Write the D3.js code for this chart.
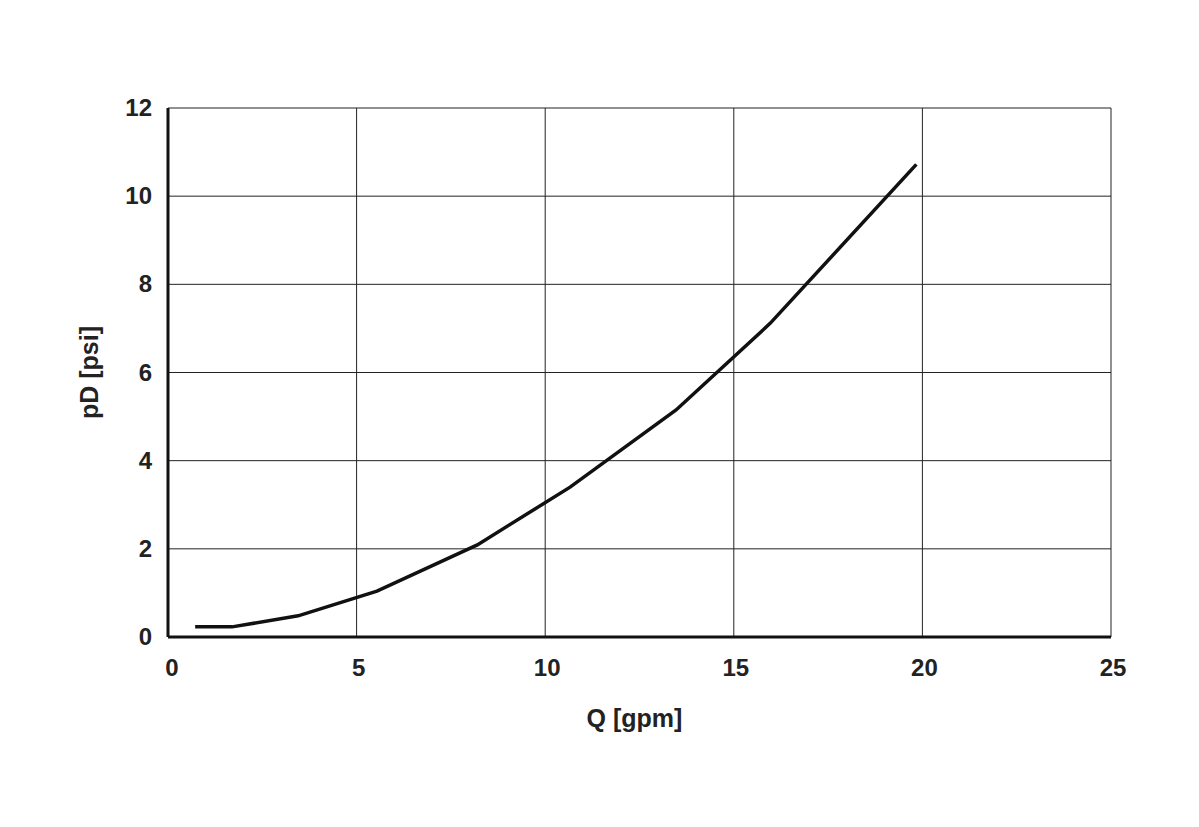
<!DOCTYPE html>
<html><head><meta charset="utf-8">
<script src="https://cdn.jsdelivr.net/npm/d3@7/dist/d3.min.js"></script>
<style>body{margin:0;background:#fff}text{font-family:"Liberation Sans",Arial,sans-serif;font-weight:bold}</style>
</head><body><svg id="c" width="1199" height="827"></svg>
<script>
const qValues=[0.72,1.7,3.45,5.54,8.2,10.66,13.47,15.97,19.84];
const pValues=[0.23,0.23,0.48,1.04,2.09,3.4,5.15,7.12,10.72];
const xTicks=[0,5,10,15,20,25];
const yTicks=[0,2,4,6,8,10,12];
const svg=d3.select("#c");
const L=168,R=1111,T=108,B=637;
const x=d3.scaleLinear().domain([0,25]).range([L,R]);
const y=d3.scaleLinear().domain([0,12]).range([B,T]);
const g=svg.append("g");
g.selectAll(".vx").data(xTicks).join("line").attr("x1",d=>x(d)).attr("x2",d=>x(d)).attr("y1",T).attr("y2",B).attr("stroke","#222").attr("stroke-width",1);
g.selectAll(".hy").data(yTicks).join("line").attr("y1",d=>y(d)).attr("y2",d=>y(d)).attr("x1",L).attr("x2",R).attr("stroke","#222").attr("stroke-width",1);
g.append("line").attr("x1",L).attr("x2",L).attr("y1",T).attr("y2",B).attr("stroke","#111").attr("stroke-width",3);
g.append("line").attr("x1",L).attr("x2",R).attr("y1",B).attr("y2",B).attr("stroke","#111").attr("stroke-width",3);
g.selectAll(".xt").data(xTicks).join("text").attr("x",d=>x(d)+(d===0?4:2)).attr("y",B+39).attr("text-anchor","middle").attr("font-size",24).attr("fill","#222").text(d=>d);
g.selectAll(".yt").data(yTicks).join("text").attr("x",L-16).attr("y",d=>y(d)+8).attr("text-anchor","end").attr("font-size",24).attr("fill","#222").text(d=>d);
svg.append("text").attr("x",(L+R)/2-5).attr("y",727).attr("text-anchor","middle").attr("font-size",25).attr("fill","#222").text("Q [gpm]");
svg.append("text").attr("transform",`translate(98,${(T+B)/2}) rotate(-90)`).attr("text-anchor","middle").attr("font-size",25).attr("fill","#222").text("pD [psi]");
const line=d3.line().x((d,i)=>x(qValues[i])).y((d,i)=>y(pValues[i]));
svg.append("path").attr("d",line(qValues)).attr("fill","none").attr("stroke","#111").attr("stroke-width",3.5);
</script></body></html>
